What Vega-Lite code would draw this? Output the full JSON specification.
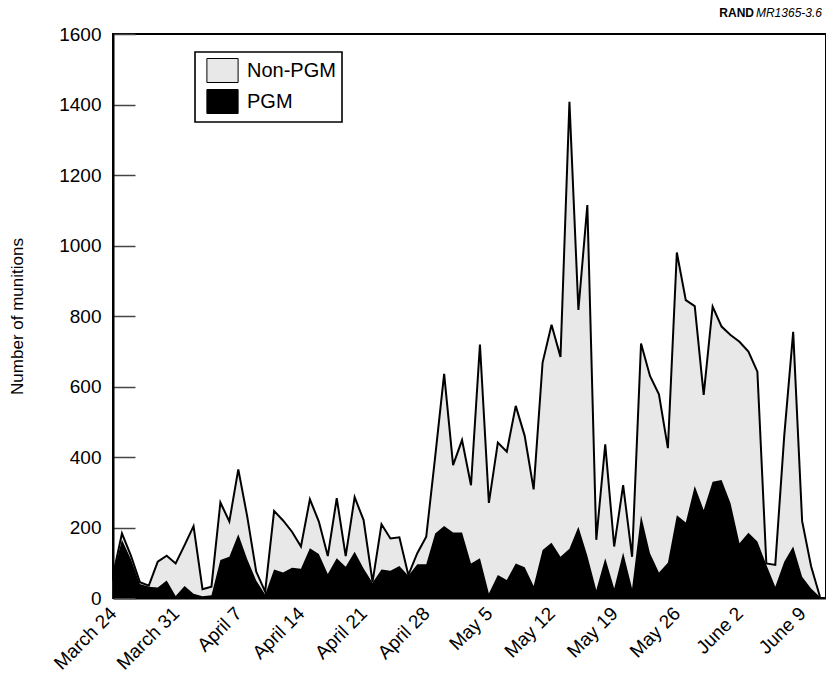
{
  "$schema": "https://vega.github.io/schema/vega-lite/v6.json",
  "width": 713,
  "height": 564,
  "autosize": {"type": "none"},
  "padding": {"left": 113, "top": 34, "right": 0, "bottom": 83},
  "background": "white",
  "config": {
    "font": "Liberation Sans",
    "view": {"stroke": "black", "strokeWidth": 2},
    "axis": {
      "labelFont": "Liberation Sans",
      "labelFontSize": 19,
      "labelColor": "black",
      "domainColor": "black",
      "domainWidth": 2,
      "grid": false,
      "zindex": 1
    }
  },
  "data": {
    "values": [
      {"date": "1999-03-24", "total": 65, "pgm": 65},
      {"date": "1999-03-25", "total": 183, "pgm": 165},
      {"date": "1999-03-26", "total": 120, "pgm": 110},
      {"date": "1999-03-27", "total": 45, "pgm": 40},
      {"date": "1999-03-28", "total": 35, "pgm": 32},
      {"date": "1999-03-29", "total": 103, "pgm": 30},
      {"date": "1999-03-30", "total": 120, "pgm": 50},
      {"date": "1999-03-31", "total": 98, "pgm": 6},
      {"date": "1999-04-01", "total": 150, "pgm": 34},
      {"date": "1999-04-02", "total": 204, "pgm": 12},
      {"date": "1999-04-03", "total": 25, "pgm": 5},
      {"date": "1999-04-04", "total": 32, "pgm": 8},
      {"date": "1999-04-05", "total": 271, "pgm": 108},
      {"date": "1999-04-06", "total": 217, "pgm": 117},
      {"date": "1999-04-07", "total": 365, "pgm": 181},
      {"date": "1999-04-08", "total": 231, "pgm": 110},
      {"date": "1999-04-09", "total": 75, "pgm": 50},
      {"date": "1999-04-10", "total": 18, "pgm": 10},
      {"date": "1999-04-11", "total": 247, "pgm": 81},
      {"date": "1999-04-12", "total": 220, "pgm": 72},
      {"date": "1999-04-13", "total": 188, "pgm": 86},
      {"date": "1999-04-14", "total": 146, "pgm": 83},
      {"date": "1999-04-15", "total": 280, "pgm": 141},
      {"date": "1999-04-16", "total": 217, "pgm": 125},
      {"date": "1999-04-17", "total": 119, "pgm": 68},
      {"date": "1999-04-18", "total": 283, "pgm": 113},
      {"date": "1999-04-19", "total": 119, "pgm": 89},
      {"date": "1999-04-20", "total": 286, "pgm": 131},
      {"date": "1999-04-21", "total": 221, "pgm": 84},
      {"date": "1999-04-22", "total": 46, "pgm": 43},
      {"date": "1999-04-23", "total": 209, "pgm": 81},
      {"date": "1999-04-24", "total": 169, "pgm": 77},
      {"date": "1999-04-25", "total": 172, "pgm": 91},
      {"date": "1999-04-26", "total": 65, "pgm": 63},
      {"date": "1999-04-27", "total": 127, "pgm": 96},
      {"date": "1999-04-28", "total": 174, "pgm": 96},
      {"date": "1999-04-29", "total": 401, "pgm": 183},
      {"date": "1999-04-30", "total": 636, "pgm": 204},
      {"date": "1999-05-01", "total": 377, "pgm": 186},
      {"date": "1999-05-02", "total": 448, "pgm": 186},
      {"date": "1999-05-03", "total": 320, "pgm": 98},
      {"date": "1999-05-04", "total": 719, "pgm": 113},
      {"date": "1999-05-05", "total": 270, "pgm": 13},
      {"date": "1999-05-06", "total": 441, "pgm": 65},
      {"date": "1999-05-07", "total": 415, "pgm": 51},
      {"date": "1999-05-08", "total": 545, "pgm": 98},
      {"date": "1999-05-09", "total": 460, "pgm": 87},
      {"date": "1999-05-10", "total": 308, "pgm": 34},
      {"date": "1999-05-11", "total": 668, "pgm": 136},
      {"date": "1999-05-12", "total": 775, "pgm": 157},
      {"date": "1999-05-13", "total": 684, "pgm": 117},
      {"date": "1999-05-14", "total": 1408, "pgm": 140},
      {"date": "1999-05-15", "total": 817, "pgm": 202},
      {"date": "1999-05-16", "total": 1115, "pgm": 120},
      {"date": "1999-05-17", "total": 165, "pgm": 23},
      {"date": "1999-05-18", "total": 436, "pgm": 113},
      {"date": "1999-05-19", "total": 146, "pgm": 27},
      {"date": "1999-05-20", "total": 320, "pgm": 129},
      {"date": "1999-05-21", "total": 117, "pgm": 27},
      {"date": "1999-05-22", "total": 722, "pgm": 235},
      {"date": "1999-05-23", "total": 630, "pgm": 127},
      {"date": "1999-05-24", "total": 578, "pgm": 72},
      {"date": "1999-05-25", "total": 425, "pgm": 100},
      {"date": "1999-05-26", "total": 980, "pgm": 235},
      {"date": "1999-05-27", "total": 845, "pgm": 214},
      {"date": "1999-05-28", "total": 828, "pgm": 318},
      {"date": "1999-05-29", "total": 576, "pgm": 250},
      {"date": "1999-05-30", "total": 827, "pgm": 330},
      {"date": "1999-05-31", "total": 770, "pgm": 335},
      {"date": "1999-06-01", "total": 746, "pgm": 269},
      {"date": "1999-06-02", "total": 727, "pgm": 155},
      {"date": "1999-06-03", "total": 699, "pgm": 185},
      {"date": "1999-06-04", "total": 642, "pgm": 160},
      {"date": "1999-06-05", "total": 98, "pgm": 94},
      {"date": "1999-06-06", "total": 94, "pgm": 32},
      {"date": "1999-06-07", "total": 460, "pgm": 103},
      {"date": "1999-06-08", "total": 755, "pgm": 146},
      {"date": "1999-06-09", "total": 218, "pgm": 60},
      {"date": "1999-06-10", "total": 90, "pgm": 27},
      {"date": "1999-06-11", "total": 3, "pgm": 3}
    ]
  },
  "layer": [
    {
      "encoding": {
        "x": {
          "field": "date",
          "type": "temporal",
          "scale": {
            "type": "utc",
            "domain": [
              {"year": 1999, "month": 3, "date": 24, "utc": true},
              {"year": 1999, "month": 6, "date": 11, "hours": 16, "utc": true}
            ]
          },
          "axis": {
            "title": null,
            "labelExpr": "utcFormat(datum.value, '%B %-d')",
            "values": [
              {"year": 1999, "month": 3, "date": 24, "utc": true},
              {"year": 1999, "month": 3, "date": 31, "utc": true},
              {"year": 1999, "month": 4, "date": 7, "utc": true},
              {"year": 1999, "month": 4, "date": 14, "utc": true},
              {"year": 1999, "month": 4, "date": 21, "utc": true},
              {"year": 1999, "month": 4, "date": 28, "utc": true},
              {"year": 1999, "month": 5, "date": 5, "utc": true},
              {"year": 1999, "month": 5, "date": 12, "utc": true},
              {"year": 1999, "month": 5, "date": 19, "utc": true},
              {"year": 1999, "month": 5, "date": 26, "utc": true},
              {"year": 1999, "month": 6, "date": 2, "utc": true},
              {"year": 1999, "month": 6, "date": 9, "utc": true}
            ],
            "labelAngle": -45,
            "labelAlign": "right",
            "labelBaseline": "middle",
            "labelPadding": 30,
            "labelOverlap": false,
            "labelFlush": false,
            "tickSize": -18,
            "tickColor": "#dddddd",
            "tickWidth": 1.5
          }
        }
      },
      "layer": [
        {
          "mark": {"type": "area", "interpolate": "linear"},
          "encoding": {
            "y": {
              "field": "total",
              "type": "quantitative",
              "scale": {"domain": [0, 1600], "nice": false},
              "axis": {
                "title": "Number of munitions",
                "titleFont": "Liberation Sans",
                "titleFontSize": 17,
                "titleFontWeight": "normal",
                "titleColor": "black",
                "titlePadding": 32,
                "format": "d",
                "values": [0, 200, 400, 600, 800, 1000, 1200, 1400, 1600],
                "tickSize": -22,
                "tickColor": "#444444",
                "tickWidth": 1.5,
                "labelPadding": 34
              }
            },
            "color": {
              "datum": "Non-PGM",
              "type": "nominal",
              "scale": {"domain": ["Non-PGM", "PGM"], "range": ["#e8e8e8", "#000000"]},
              "legend": {
                "title": null,
                "orient": "none",
                "legendX": 82,
                "legendY": 18,
                "fillColor": "white",
                "strokeColor": "black",
                "padding": 6,
                "symbolType": "M-1.3,-1L1.3,-1L1.3,1L-1.3,1Z",
                "symbolSize": 576,
                "symbolStrokeColor": "black",
                "symbolStrokeWidth": 1,
                "symbolOffset": 9,
                "labelOffset": 12,
                "labelFont": "Liberation Sans",
                "labelFontSize": 20,
                "labelColor": "black",
                "rowPadding": 2,
                "encode": {"legend": {"update": {"strokeWidth": {"value": 1.6}}}}
              }
            }
          }
        },
        {
          "mark": {"type": "area", "interpolate": "linear"},
          "encoding": {
            "y": {"field": "pgm", "type": "quantitative"},
            "color": {"datum": "PGM", "type": "nominal"}
          }
        },
        {
          "mark": {"type": "line", "color": "black", "strokeWidth": 2, "interpolate": "linear"},
          "encoding": {
            "y": {"field": "total", "type": "quantitative"}
          }
        }
      ]
    },
    {
      "data": {"values": [{"org": "RAND", "code": "MR1365-3.6"}]},
      "mark": {"type": "text", "align": "right", "baseline": "alphabetic", "fontSize": 12, "fontStyle": "italic", "font": "Liberation Sans", "color": "black", "dx": -4, "dy": -17, "clip": false},
      "encoding": {
        "x": {"datum": {"year": 1999, "month": 6, "date": 11, "hours": 16, "utc": true}, "type": "temporal"},
        "y": {"datum": 1600, "type": "quantitative"},
        "text": {"field": "code", "type": "nominal"}
      }
    },
    {
      "data": {"values": [{"org": "RAND", "code": "MR1365-3.6"}]},
      "mark": {"type": "text", "align": "right", "baseline": "alphabetic", "fontSize": 12, "fontWeight": "bold", "font": "Liberation Sans", "color": "black", "dx": -72, "dy": -17, "clip": false},
      "encoding": {
        "x": {"datum": {"year": 1999, "month": 6, "date": 11, "hours": 16, "utc": true}, "type": "temporal"},
        "y": {"datum": 1600, "type": "quantitative"},
        "text": {"field": "org", "type": "nominal"}
      }
    }
  ]
}
